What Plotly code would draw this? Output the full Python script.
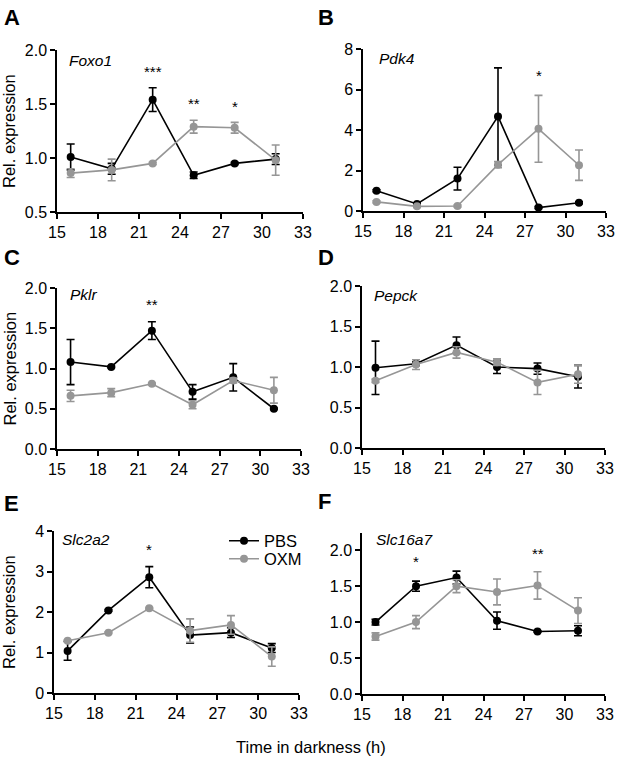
import plotly.graph_objects as go

W, H = 617, 760

hours = [16, 19, 22, 25, 28, 31]
x_ticks = [15, 18, 21, 24, 27, 30, 33]

# relative expression, mean and SEM
foxo1_pbs = [1.01, 0.90, 1.54, 0.84, 0.95, 0.99]
foxo1_pbs_sem = [0.12, 0.05, 0.11, 0.03, 0.01, 0.05]
foxo1_oxm = [0.86, 0.89, 0.95, 1.29, 1.28, 0.98]
foxo1_oxm_sem = [0.04, 0.10, 0.01, 0.06, 0.05, 0.14]

pdk4_pbs = [1.00, 0.35, 1.60, 4.67, 0.17, 0.41]
pdk4_pbs_sem = [0.05, 0.05, 0.56, 2.40, 0.05, 0.05]
pdk4_oxm = [0.45, 0.23, 0.25, 2.29, 4.06, 2.26]
pdk4_oxm_sem = [0.05, 0.05, 0.05, 0.15, 1.65, 0.75]

pklr_pbs = [1.08, 1.02, 1.47, 0.71, 0.89, 0.50]
pklr_pbs_sem = [0.28, 0.01, 0.11, 0.09, 0.17, 0.01]
pklr_oxm = [0.66, 0.70, 0.81, 0.55, 0.85, 0.73]
pklr_oxm_sem = [0.07, 0.05, 0.01, 0.05, 0.03, 0.16]

pepck_pbs = [0.99, 1.04, 1.27, 1.00, 0.98, 0.88]
pepck_pbs_sem = [0.33, 0.02, 0.10, 0.08, 0.07, 0.14]
pepck_oxm = [0.83, 1.03, 1.18, 1.06, 0.81, 0.91]
pepck_oxm_sem = [0.02, 0.06, 0.07, 0.04, 0.15, 0.11]

slc2a2_pbs = [1.04, 2.04, 2.86, 1.43, 1.49, 1.11]
slc2a2_pbs_sem = [0.23, 0.02, 0.26, 0.20, 0.12, 0.11]
slc2a2_oxm = [1.29, 1.49, 2.09, 1.54, 1.68, 0.90]
slc2a2_oxm_sem = [0.02, 0.02, 0.02, 0.29, 0.23, 0.24]

slc16a7_pbs = [1.00, 1.50, 1.62, 1.02, 0.87, 0.88]
slc16a7_pbs_sem = [0.04, 0.07, 0.09, 0.12, 0.01, 0.07]
slc16a7_oxm = [0.80, 1.00, 1.50, 1.42, 1.51, 1.16]
slc16a7_oxm_sem = [0.05, 0.09, 0.09, 0.18, 0.19, 0.18]

genes = ["Foxo1", "Pdk4", "Pklr", "Pepck", "Slc2a2", "Slc16a7"]
letters = ["A", "B", "C", "D", "E", "F"]
y_ranges = [[0.5, 2.0], [0, 8], [0, 2], [0, 2], [0, 4], [0, 2.24]]
y_ticks = [[0.5, 1.0, 1.5, 2.0], [0, 2, 4, 6, 8], [0, 0.5, 1.0, 1.5, 2.0],
           [0, 0.5, 1.0, 1.5, 2.0], [0, 1, 2, 3, 4], [0, 0.5, 1.0, 1.5, 2.0]]

# significance marks
stars_panel = [0, 0, 0, 1, 2, 4, 5, 5]
stars_hour = [22, 25, 28, 28, 22, 22, 19, 28]
stars_y = [1.80, 1.50, 1.48, 6.7, 1.80, 3.55, 1.85, 1.95]
stars_text = ["***", "**", "*", "*", "**", "*", "*", "**"]

pbs = [foxo1_pbs, pdk4_pbs, pklr_pbs, pepck_pbs, slc2a2_pbs, slc16a7_pbs]
pbs_sem = [foxo1_pbs_sem, pdk4_pbs_sem, pklr_pbs_sem, pepck_pbs_sem, slc2a2_pbs_sem, slc16a7_pbs_sem]
oxm = [foxo1_oxm, pdk4_oxm, pklr_oxm, pepck_oxm, slc2a2_oxm, slc16a7_oxm]
oxm_sem = [foxo1_oxm_sem, pdk4_oxm_sem, pklr_oxm_sem, pepck_oxm_sem, slc2a2_oxm_sem, slc16a7_oxm_sem]

# plot boxes in pixels: left, right, top, bottom
boxes = [(57, 303, 50, 212), (363, 606, 49, 211),
         (57, 301, 288, 449), (362, 605, 286, 448),
         (54, 299, 531, 693), (362, 605, 533, 694)]
letter_pos = [(2, 3), (316, 3), (2, 243), (316, 243), (2, 489), (316, 487)]
gene_pos = [(0.04, 0.938), (0.058, 0.944), (0.045, 0.957),
            (0.041, 0.944), (0.025, 0.95), (0.05, 0.957)]

BLACK = "#000000"
GREY = "#969696"
FONT = "Liberation Sans, Arial, sans-serif"

fig = go.Figure()
layout = dict()
annotations = []

for i in range(6):
    n = "" if i == 0 else str(i + 1)
    xa, ya = "x" + n, "y" + n
    for vals, sem, color, name, leg in [(pbs[i], pbs_sem[i], BLACK, "PBS", "legend"),
                                        (oxm[i], oxm_sem[i], GREY, "OXM", "legend2")]:
        fig.add_trace(go.Scatter(
            x=hours, y=vals, xaxis=xa, yaxis=ya,
            mode="lines+markers", name=name, legend=leg,
            showlegend=(i == 4),
            line=dict(color=color, width=1.6),
            marker=dict(color=color, size=8),
            error_y=dict(type="data", array=sem, color=color,
                         thickness=1.6, width=4),
            cliponaxis=False,
        ))
    l, r, t, b = boxes[i]
    layout["xaxis" + n] = dict(
        domain=[l / W, r / W], anchor=ya, range=[15, 33],
        tickvals=x_ticks, ticks="outside", ticklen=5, tickwidth=1.5,
        tickcolor=BLACK, showline=True, linecolor=BLACK, linewidth=1.5,
        showgrid=False, zeroline=False, automargin=False,
        tickfont=dict(size=16, color=BLACK),
    )
    fmt = ".1f" if isinstance(y_ticks[i][-1], float) else "d"
    layout["yaxis" + n] = dict(
        domain=[1 - b / H, 1 - t / H], anchor=xa, range=y_ranges[i],
        tickvals=y_ticks[i], tickformat=fmt, ticks="outside", ticklen=5,
        tickwidth=1.5, tickcolor=BLACK, showline=True, linecolor=BLACK,
        linewidth=1.5, showgrid=False, zeroline=False, automargin=False,
        tickfont=dict(size=16, color=BLACK),
    )
    annotations.append(dict(
        text="<b>%s</b>" % letters[i], xref="paper", yref="paper",
        x=letter_pos[i][0] / W, y=1 - letter_pos[i][1] / H,
        xanchor="left", yanchor="top", showarrow=False,
        font=dict(size=22, color=BLACK)))
    annotations.append(dict(
        text="<i>%s</i>" % genes[i], xref=xa + " domain", yref=ya + " domain",
        x=gene_pos[i][0], y=gene_pos[i][1], xanchor="left", yanchor="middle",
        showarrow=False, font=dict(size=15.5, color=BLACK)))
    if i % 2 == 0:
        annotations.append(dict(
            text="Rel. expression", xref="paper", yref=ya + " domain",
            x=9 / W, y=0.5, textangle=-90, xanchor="center", yanchor="middle",
            showarrow=False, font=dict(size=16.5, color=BLACK)))

for p, hx, hy, s in zip(stars_panel, stars_hour, stars_y, stars_text):
    n = "" if p == 0 else str(p + 1)
    annotations.append(dict(
        text=s, xref="x" + n, yref="y" + n, x=hx, y=hy,
        xanchor="center", yanchor="middle", showarrow=False,
        font=dict(size=15, color=BLACK)))

annotations.append(dict(
    text="Time in darkness (h)", xref="paper", yref="paper",
    x=311 / W, y=1 - 747 / H, xanchor="center", yanchor="middle",
    showarrow=False, font=dict(size=16.5, color=BLACK)))

legend_style = dict(xanchor="left", yanchor="middle", bgcolor="rgba(0,0,0,0)",
                    font=dict(size=16.5, color=BLACK), itemwidth=30,
                    borderwidth=0)

fig.update_layout(
    **layout,
    template="none",
    annotations=annotations,
    width=W, height=H, autosize=False,
    margin=dict(l=0, r=0, t=0, b=0, pad=0),
    paper_bgcolor="white", plot_bgcolor="white",
    font=dict(family=FONT, color=BLACK),
    showlegend=True,
    legend=dict(x=224 / W, y=1 - 541 / H, **legend_style),
    legend2=dict(x=224 / W, y=1 - 559 / H, **legend_style),
)

# drop the default page margin so the 617x760 figure fills the window
fig.write_html("out.html", config={"displayModeBar": False},
               post_script="document.body.style.margin='0px';")
